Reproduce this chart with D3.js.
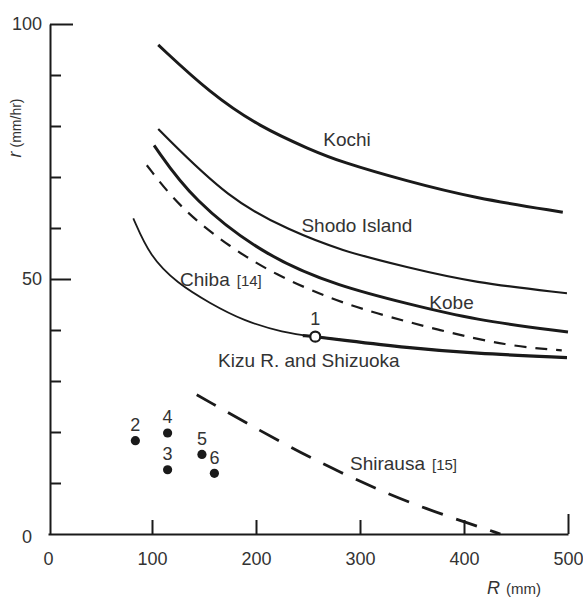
<!DOCTYPE html>
<html>
<head>
<meta charset="utf-8">
<script src="https://cdn.jsdelivr.net/npm/d3@7"></script>
<style>
  html, body { margin: 0; padding: 0; background: #fff; }
  svg { display: block; font-family: "Liberation Sans", Arial, Helvetica, sans-serif; }
  .axis path, .axis line { stroke: #1a1a1a; stroke-width: 2; }
  .axis text { fill: #333; font-size: 18px; font-family: "Liberation Sans", Arial, sans-serif; }
</style>
</head>
<body>
<svg id="chart" width="583" height="597"></svg>
<script>
// Critical rainfall curves: cumulative rainfall R (mm) vs rainfall intensity r (mm/hr)

const kochiR = [106, 156, 204, 252, 281, 345, 409, 495];
const kochiRate = [95.9, 86.4, 79.8, 75.4, 73.0, 69.2, 65.9, 63.1];

const shodoR = [106, 175, 233, 281, 345, 409, 499];
const shodoRate = [79.4, 65.4, 59.5, 55.6, 52.3, 49.3, 47.2];

const kobeR = [102, 139, 211, 281, 345, 409, 500];
const kobeRate = [76.2, 65.4, 54.2, 48.5, 45.2, 42.0, 39.6];

const dashedR = [95, 127, 175, 220, 271, 313, 377, 441, 494];
const dashedRate = [72.3, 63.9, 56.2, 50.7, 46.2, 43.4, 39.9, 36.9, 36.0];

const chibaR = [82, 98, 124, 156, 188, 226, 257, 281, 345, 409, 499];
const chibaRate = [61.9, 54.4, 49.2, 45.2, 41.8, 39.5, 38.7, 38.1, 36.5, 35.4, 34.6];

const kizuR = [245, 257, 281, 345, 409, 499];
const kizuRate = [38.9, 38.7, 38.1, 36.5, 35.4, 34.6];

const shirausaR = [143, 233, 284, 322, 364, 403, 435];
const shirausaRate = [27.3, 16.9, 11.8, 8.3, 4.9, 2.2, 0];

// observed events (point 1 drawn open)
const eventIds = ["1", "2", "3", "4", "5", "6"];
const eventR = [257, 84, 115, 115, 148, 160];
const eventRate = [38.7, 18.3, 12.6, 19.8, 15.6, 11.9];

// tick values
const xTicks = [0, 100, 200, 300, 400, 500];
const yMajorTicks = [0, 50, 100];
const yMinorTicks = [10, 20, 30, 40, 60, 70, 80, 90];

// curve labels: [text, reference, R, r, anchor]
const curveLabels = [
  ["Kochi", "", 287.5, 77.3, "middle"],
  ["Shodo Island", "", 297, 60.6, "middle"],
  ["Kobe", "", 388, 45.5, "middle"],
  ["Chiba", "[14]", 127, 50.0, "start"],
  ["Kizu R. and Shizuoka", "", 163.5, 34.1, "start"],
  ["Shirausa", "[15]", 290.4, 13.9, "start"]
];

const svg = d3.select("#chart");
const ink = "#1a1a1a";
const textInk = "#333";

const x = d3.scaleLinear().domain([0, 500]).range([48, 568]);
const y = d3.scaleLinear().domain([0, 100]).range([534, 24]);

// axes
const xAxis = svg.append("g")
  .attr("class", "axis")
  .attr("transform", `translate(0,${y(0)})`)
  .call(d3.axisBottom(x).tickValues(xTicks).tickSize(-14).tickSizeOuter(0).tickPadding(18));
xAxis.selectAll(".tick").filter(d => d === 0).select("line").remove();
xAxis.selectAll(".tick").filter(d => d === 500).select("line").attr("y2", -20);

const yMinor = svg.append("g")
  .attr("class", "axis")
  .attr("transform", `translate(${x(0) + 2},0)`)
  .call(d3.axisLeft(y).tickValues(yMinorTicks).tickSize(-11).tickSizeOuter(0).tickFormat(""));
yMinor.select(".domain").remove();

const yAxis = svg.append("g")
  .attr("class", "axis")
  .attr("transform", `translate(${x(0) + 2},0)`)
  .call(d3.axisLeft(y).tickValues(yMajorTicks).tickSize(-21).tickSizeOuter(0).tickPadding(8));
yAxis.selectAll(".tick").filter(d => d === 100).select("line").attr("x2", 23);
yAxis.selectAll(".tick").filter(d => d === 0).select("line").remove();
yAxis.selectAll(".tick").filter(d => d === 0).select("text").attr("x", -18).attr("dy", "0.45em");

// axis titles
const yTitle = svg.append("text")
  .attr("transform", "translate(21,128) rotate(-90)")
  .attr("text-anchor", "middle")
  .attr("fill", textInk);
yTitle.append("tspan").attr("font-style", "italic").attr("font-size", 18).text("r");
yTitle.append("tspan").attr("font-size", 14).attr("dx", 4).text("(mm/hr)");

const xTitle = svg.append("text")
  .attr("x", 487).attr("y", 594)
  .attr("fill", textInk);
xTitle.append("tspan").attr("font-style", "italic").attr("font-size", 18).text("R");
xTitle.append("tspan").attr("font-size", 15).attr("dx", 6).text("(mm)");

// curves (B-spline through the read-off points for a smooth hand-drawn look)
const line = d3.line()
  .x(d => x(d[0]))
  .y(d => y(d[1]))
  .curve(d3.curveBasis);

const curves = [
  { R: kochiR, r: kochiRate, w: 3, dash: null },
  { R: shodoR, r: shodoRate, w: 2.2, dash: null },
  { R: kobeR, r: kobeRate, w: 3, dash: null },
  { R: dashedR, r: dashedRate, w: 2.2, dash: "12,9" },
  { R: chibaR, r: chibaRate, w: 1.8, dash: null },
  { R: kizuR, r: kizuRate, w: 3.2, dash: null },
  { R: shirausaR, r: shirausaRate, w: 2.8, dash: "22,14" }
];

svg.append("g").selectAll("path")
  .data(curves)
  .join("path")
  .attr("d", c => line(d3.zip(c.R, c.r)))
  .attr("fill", "none")
  .attr("stroke", ink)
  .attr("stroke-width", c => c.w)
  .attr("stroke-dasharray", c => c.dash)
  .attr("stroke-linecap", "butt");

// curve labels
const lbl = svg.append("g").selectAll("text")
  .data(curveLabels)
  .join("text")
  .attr("x", d => x(d[2]))
  .attr("y", d => y(d[3]))
  .attr("dy", "0.35em")
  .attr("text-anchor", d => d[4])
  .attr("fill", textInk)
  .attr("font-size", 19);
lbl.append("tspan").text(d => d[0]);
lbl.filter(d => d[1]).append("tspan")
  .attr("font-size", 15)
  .attr("dx", 7)
  .text(d => d[1]);

// observed events
const events = d3.zip(eventIds, eventR, eventRate);
const ev = svg.append("g").selectAll("g")
  .data(events)
  .join("g")
  .attr("transform", d => `translate(${x(d[1])},${y(d[2])})`);
ev.append("circle")
  .attr("r", d => d[0] === "1" ? 5 : 4.6)
  .attr("fill", d => d[0] === "1" ? "#fff" : ink)
  .attr("stroke", ink)
  .attr("stroke-width", d => d[0] === "1" ? 2.2 : 0);
ev.append("text")
  .attr("y", d => d[0] === "1" ? -18 : -16)
  .attr("dy", "0.35em")
  .attr("text-anchor", "middle")
  .attr("fill", textInk)
  .attr("font-size", 18)
  .text(d => d[0]);
</script>
</body>
</html>
